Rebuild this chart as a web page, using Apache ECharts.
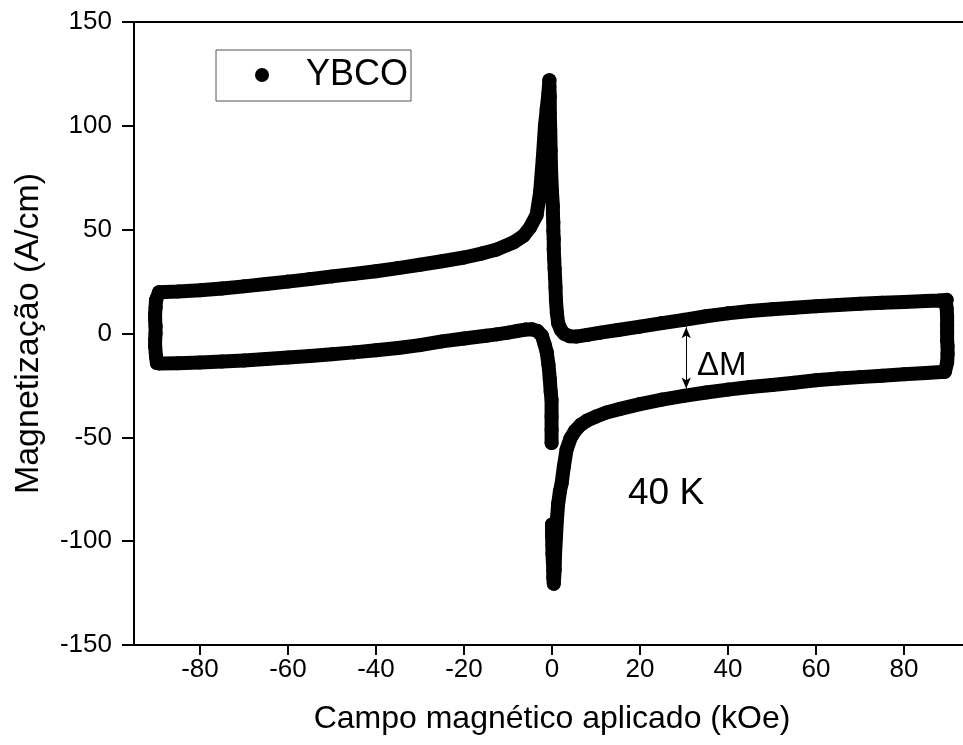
<!DOCTYPE html>
<html>
<head>
<meta charset="utf-8">
<script src="https://cdn.jsdelivr.net/npm/echarts@6/dist/echarts.min.js"></script>
<style>
  html, body { margin: 0; padding: 0; background: #fff; }
  #chart { width: 963px; height: 745px; }
</style>
</head>
<body>
<div id="chart"></div>
<script>
// Magnetisation loop of YBCO at 40 K: M (A/cm) versus applied field H (kOe).

// Decreasing-field branch, from +90 kOe through the peak near zero down to -90 kOe.
const downField = [89.7, 88, 85, 80, 75, 70, 65, 60, 55, 50, 45, 40, 35, 30, 25, 20, 15, 11, 8, 5.5, 4, 2.8, 2, 1.4, 1.1, 0.9, 0.8, 0.7, 0.6, 0.5, 0.4, 0.4, 0.3, 0.3, 0.2, 0.2, 0.0, -0.2, -0.3, -0.4, -0.5, -0.5, -0.6, -0.6, -0.8, -1.2, -1.6, -2.1, -2.7, -3.5, -5, -6.5, -8.8, -12.5, -16, -20, -25, -30, -35, -40, -45, -50, -55, -60, -65, -70, -75, -80, -85, -89.3];
const downMoment = [16.2, 15.9, 15.6, 15.2, 14.8, 14.3, 13.7, 13.1, 12.4, 11.7, 10.8, 9.7, 8.3, 6.6, 5.0, 3.3, 1.7, 0.4, -0.7, -1.5, -1.3, -0.2, 1.8, 5, 10, 16, 22, 27, 31, 35.8, 40.6, 45.4, 49.5, 53.5, 57.5, 61.4, 68, 78, 88, 98, 106, 114, 119, 122, 116, 108, 100, 84, 68, 57, 51, 47, 43.8, 40.5, 38.5, 36.6, 34.8, 33.1, 31.5, 30, 28.7, 27.5, 26.2, 25, 23.8, 22.7, 21.7, 20.8, 20.2, 19.9];

// Turning point at -90 kOe.
const leftEdgeField = [-90, -90.1, -90.2, -90.2, -90.1, -90.1, -90.2, -90.2, -90, -89.8];
const leftEdgeMoment = [16, 12.4, 9.5, 6.8, 3.5, 0, -3, -6.1, -11, -14.2];

// Increasing-field branch, from -90 kOe up to the flux jump at zero field.
const upField = [-89.3, -85, -80, -75, -70, -65, -60, -55, -50, -45, -40, -35, -30, -25, -20, -15, -12.5, -10, -8, -6, -4.5, -3.3, -2.3, -1.7, -1.2, -0.8, -0.5, -0.3, -0.1, -0.1, -0.1, -0.1];
const upMoment = [-14.4, -14.3, -14.0, -13.5, -13.0, -12.3, -11.6, -10.8, -10.0, -9.1, -8.1, -7.0, -5.6, -3.8, -2.4, -1.1, -0.4, 0.4, 1.2, 1.9, 2.0, 1.2, -1, -5, -9, -15, -22, -28, -32, -40, -46.3, -52.7];

// Increasing-field branch after the jump, from the minimum up to +90 kOe.
const lowField = [0.0, 0.0, 0.1, 0.1, 0.2, 0.3, 0.3, 0.4, 0.6, 0.7, 0.9, 1.1, 1.4, 1.8, 2.2, 2.7, 3.3, 4.2, 5.2, 6.5, 7.9, 10, 12.4, 15.5, 20, 25, 30, 35, 40, 45, 50, 55, 60, 65, 70, 75, 80, 85, 89.3];
const lowMoment = [-92, -97, -102, -106, -110, -114, -117.5, -120.5, -114, -106, -98, -90, -82, -76, -72, -64, -56, -50.5, -47, -44, -42, -40, -38, -36.3, -34, -31.8, -30, -28.4, -27, -25.8, -24.8, -23.7, -22.5, -21.7, -21, -20.3, -19.6, -19, -18.4];

// Turning point at +90 kOe, closing the loop.
const rightEdgeField = [89.8, 89.9, 89.9, 89.8, 89.8, 89.8, 89.8, 89.7, 89.5];
const rightEdgeMoment = [-14, -10, -6, -3.5, 0.5, 4, 8.4, 12, 15.8];

// Tick labels on both axes.
const fieldTicks = [-80, -60, -40, -20, 0, 20, 40, 60, 80];
const momentTicks = [-150, -100, -50, 0, 50, 100, 150];

// Width of the hysteresis at 30 kOe, marked with a double arrow.
const deltaMField = 30.5;
const deltaMTop = 3;
const deltaMBottom = -26.5;

function pairs(xs, ys) {
  return xs.map((x, i) => [x, ys[i]]);
}

// One continuous path; a null breaks the trace across the flux jump.
const loopData = [].concat(
  pairs(downField, downMoment),
  pairs(leftEdgeField, leftEdgeMoment),
  pairs(upField, upMoment),
  [[null, null]],
  pairs(lowField, lowMoment),
  pairs(rightEdgeField, rightEdgeMoment)
);

const FONT = 'Arial, "Liberation Sans", sans-serif';

const chart = echarts.init(document.getElementById('chart'), null, { renderer: 'canvas' });

chart.setOption({
  animation: false,
  backgroundColor: '#fff',
  grid: {
    left: 134, top: 22, width: 836, height: 623,
    show: true, borderColor: '#000', borderWidth: 2,
    containLabel: false, outerBoundsMode: 'none'
  },
  legend: {
    left: 216, top: 50,
    orient: 'horizontal',
    icon: 'circle',
    itemWidth: 14, itemHeight: 14,
    padding: [7, 3, 8, 39],
    borderColor: '#555', borderWidth: 1,
    textStyle: { fontFamily: FONT, fontSize: 36, color: '#000', padding: [0, 0, 0, 32] },
    data: ['YBCO']
  },
  xAxis: {
    type: 'value', min: -95, max: 95,
    name: 'Campo magnético aplicado (kOe)',
    nameLocation: 'middle', nameGap: 58,
    nameTextStyle: { fontFamily: FONT, fontSize: 32, color: '#000' },
    axisLine: { show: true, onZero: false, lineStyle: { color: '#000', width: 2 } },
    axisTick: { show: true, inside: false, length: 10, customValues: fieldTicks, lineStyle: { color: '#000', width: 2 } },
    axisLabel: { customValues: fieldTicks, margin: 12, fontFamily: FONT, fontSize: 26, color: '#000' },
    splitLine: { show: false }
  },
  yAxis: {
    type: 'value', min: -150, max: 150, interval: 50,
    name: 'Magnetização (A/cm)',
    nameLocation: 'middle', nameGap: 88, nameRotate: 90,
    nameTextStyle: { fontFamily: FONT, fontSize: 34, color: '#000' },
    axisLine: { show: true, onZero: false, lineStyle: { color: '#000', width: 2 } },
    axisTick: { show: true, inside: false, length: 12, customValues: momentTicks, lineStyle: { color: '#000', width: 2 } },
    axisLabel: { customValues: momentTicks, margin: 22, fontFamily: FONT, fontSize: 26, color: '#000' },
    splitLine: { show: false }
  },
  series: [{
    name: 'YBCO',
    type: 'line',
    data: loopData,
    connectNulls: false,
    showAllSymbol: true,
    symbol: 'circle',
    symbolSize: 14,
    itemStyle: { color: '#000' },
    lineStyle: { color: '#000', width: 14, cap: 'round', join: 'round' },
    markLine: {
      silent: true,
      symbol: ['arrow', 'arrow'],
      symbolSize: [7, 11],
      lineStyle: { color: '#000', width: 1, type: 'solid' },
      label: { show: false },
      data: [[{ coord: [deltaMField, deltaMTop] }, { coord: [deltaMField, deltaMBottom] }]]
    }
  }],
  graphic: [
    { type: 'text', left: 697, top: 349, style: { text: 'ΔM', font: '33px ' + FONT, fill: '#000' } },
    { type: 'text', left: 628, top: 475, style: { text: '40 K', font: '37px ' + FONT, fill: '#000' } }
  ]
});
</script>
</body>
</html>
